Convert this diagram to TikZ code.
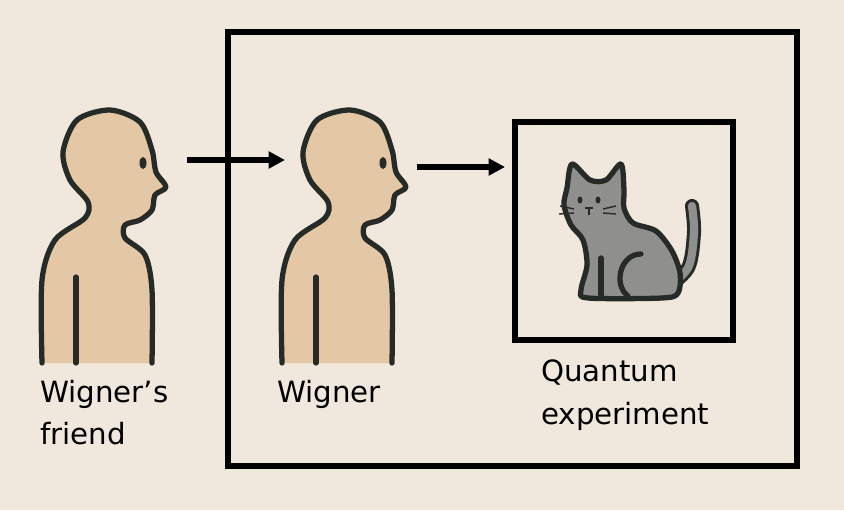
\documentclass[tikz,border=0pt]{standalone}
\usepackage{fontspec}
\setmainfont{DejaVu Sans}
\usepackage{tikz}
\usetikzlibrary{shapes,arrows.meta}
\definecolor{paper}{HTML}{F0E8DD}
\definecolor{skin}{HTML}{E4C8A5}
\definecolor{ink}{HTML}{262B28}
\definecolor{fur}{HTML}{8F8F8D}
\tikzstyle{boundingbox} = [line width=4.5pt, black]
\tikzstyle{arrow} = [draw, -{Triangle[length=14pt,width=14pt]}, line width=4.5pt]
\tikzstyle{outline} = [line width=4.5pt, ink, line join=round, line cap=round]
\tikzstyle{label} = [font=\fontsize{25}{36}\selectfont, align=left, anchor=north west, inner sep=0pt]
\tikzset{
  person/.pic={
    \fill[skin] plot[smooth] coordinates {(-68,203) (-68,120) (-55,80) (-25,58) (-22,42) (-40,20) (-47,-8) (-33,-40) (0,-50) (30,-38) (42,-10) (46,12) (56,27) (45,35) (42,50) (30,60) (15,65) (15,78) (35,95) (42,130) (42,203)} -- cycle;
    \draw[outline] plot[smooth] coordinates {(-68,203) (-68,120) (-55,80) (-25,58) (-22,42) (-40,20) (-47,-8) (-33,-40) (0,-50) (30,-38) (42,-10) (46,12) (56,27) (45,35) (42,50) (30,60) (15,65) (15,78) (35,95) (42,130) (42,203)};
    \draw[outline] (-34,117) -- (-34,203);
    \fill[ink] (33,3) ellipse (3.5 and 6);
  }
}
\begin{document}
\begin{tikzpicture}[x=0.3mm, y=-0.3mm]
\fill[paper] (0,0) rectangle (844,510);
\useasboundingbox (0,0) rectangle (844,510);
\draw[boundingbox] (228,32) rectangle (797,466);
\draw[boundingbox] (515,122) rectangle (733,340);

\pic at (110,160) {person};
\pic at (350,160) {person};

% cat
\draw[line width=12pt, ink, line cap=round] plot[smooth] coordinates {(662,292) (688,268) (694,232) (692,206)};
\draw[line width=7pt, fur, line cap=round] plot[smooth] coordinates {(662,292) (688,268) (694,232) (692,206)};
\filldraw[outline, fill=fur] plot[smooth cycle] coordinates {(567,188) (572,164) (590,180) (606,180) (621,164) (624,190) (624,208) (633,223) (656,231) (672,251) (680,273) (678,293) (662,298) (588,298) (581,290) (587,265) (583,240) (571,225) (564,205)};
\draw[outline] (601,258) -- (601,295);
\draw[outline] (641,254) .. controls (620,254) and (613,285) .. (628,296);
\fill[ink] (580,200) ellipse (2.5 and 3.5) (598,200) ellipse (2.5 and 3.5);
\draw[ink, line width=1.5pt] (589,208) -- (589,215) (585,208) -- (593,208);
\draw[ink, line width=1.2pt] (574,209) -- (560,206) (574,213) -- (559,214) (603,209) -- (616,206) (603,213) -- (616,214);

\coordinate (friendeye) at (187,160);
\coordinate (wignerin) at (285,160);
\coordinate (wignereye) at (417,167);
\coordinate (expin) at (505,167);
\path[arrow] (friendeye) -- (wignerin);
\path[arrow] (wignereye) -- (expin);

\node[label] (friendlabel) at (40,380) {Wigner’s\\friend};
\node[label] (wignerlabel) at (277,380) {Wigner};
\node[label] (explabel) at (541,360) {Quantum\\experiment};
\end{tikzpicture}
\end{document}
